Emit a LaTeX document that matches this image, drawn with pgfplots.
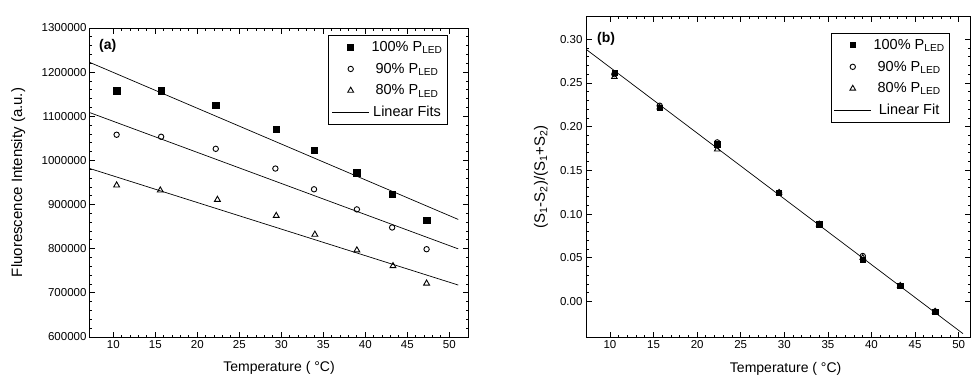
\documentclass[border=0pt]{standalone}
\usepackage{fontspec}
\setmainfont{Liberation Sans}
\usepackage{pgfplots}
\pgfplotsset{compat=1.18}
\begin{document}
\begin{tikzpicture}
\path[use as bounding box] (0pt,0pt) rectangle (972pt,375pt);
\pgfplotsset{
 common/.style={
   scale only axis, anchor=south west,
   /pgf/number format/assume math mode=true,
   tick align=inside, major tick length=5.5pt, minor tick length=2.5pt,
   every tick/.style={black, line width=0.8pt},
   axis line style={line width=1pt},
   ticklabel style={font=\fontsize{11.5}{13}\selectfont},
   xlabel style={font=\fontsize{14}{16}\selectfont},
   ylabel style={font=\fontsize{15}{17}\selectfont},
   legend style={font=\fontsize{14.5}{17}\selectfont, draw=black, line width=0.8pt,
     inner xsep=3pt, inner ysep=4pt, row sep=6pt, cells={anchor=center}},
   xtick={10,15,20,25,30,35,40,45,50}, minor x tick num=4,
   xlabel={Temperature ( °C)},
   xlabel style={at={(axis description cs:0.5,-0.10)}, anchor=center},
 },
 fitleg/.style={legend image code/.code={\draw[##1] (-0.35cm,0cm) -- (0.95cm,0cm);}},
}
% ---------------- (a) ----------------
\begin{axis}[common, at={(90pt,38pt)}, width=378pt, height=309pt,
 xmin=7.23, xmax=52.23, ymin=600000, ymax=1300000,
 ytick={600000,700000,800000,900000,1000000,1100000,1200000,1300000}, minor y tick num=4,
 scaled y ticks=false,
 yticklabel style={/pgf/number format/fixed, /pgf/number format/1000 sep={}},
 ylabel={Fluorescence Intensity (a.u.)},
 ylabel style={at={(axis description cs:-0.19,0.5)}, anchor=center},
 legend style={at={(0.947,0.977)}, anchor=north east},
]
\addplot[only marks, mark=square*, mark size=3.2pt, black] coordinates {
 (10.4,1158000) (15.7,1158000) (22.2,1125000) (29.4,1070300)
 (33.9,1022500) (39.0,972500) (43.2,923200) (47.3,864100)};
\addlegendentry{100\% P\textsubscript{LED}}
\addplot[only marks, mark=o, mark size=2.7pt, black, mark options={line width=0.9pt}] coordinates {
 (10.4,1058200) (15.7,1053600) (22.2,1026300) (29.3,981600)
 (33.9,934600) (39.0,889100) (43.2,848100) (47.3,798900)};
\addlegendentry{90\% P\textsubscript{LED}}
\addplot[only marks, mark=triangle, mark size=3.4pt, black, mark options={line width=0.9pt}] coordinates {
 (10.4,943700) (15.6,932300) (22.4,911100) (29.4,874700)
 (34.0,832200) (39.0,796600) (43.3,760900) (47.3,721500)};
\addlegendentry{80\% P\textsubscript{LED}}
\addplot[black, line width=0.7pt, fitleg] coordinates {(7.22,1221900) (51.07,866300)};
\addlegendentry{Linear Fits}
\addplot[black, line width=0.7pt, forget plot] coordinates {(7.22,1108200) (51.07,799600)};
\addplot[black, line width=0.7pt, forget plot] coordinates {(7.22,981600) (51.07,717700)};
\node[anchor=north west, font=\bfseries\fontsize{14}{16}\selectfont] at (rel axis cs:0.015,0.975) {(a)};
\end{axis}
% ---------------- (b) ----------------
\begin{axis}[common, at={(586pt,38pt)}, width=384pt, height=320pt,
 xmin=7.25, xmax=51.3, ymin=-0.0407, ymax=0.3255,
 ytick={0,0.05,0.1,0.15,0.2,0.25,0.3}, minor y tick num=4,
 scaled y ticks=false,
 yticklabel style={/pgf/number format/fixed, /pgf/number format/fixed zerofill, /pgf/number format/precision=2},
 ylabel={(S\textsubscript{1}-S\textsubscript{2})/(S\textsubscript{1}+S\textsubscript{2})},
 ylabel style={at={(axis description cs:-0.117,0.5)}, anchor=center},
 xlabel style={at={(axis description cs:0.52,-0.10)}, anchor=center},
 legend style={at={(0.948,0.95)}, anchor=north east},
]
\addplot[only marks, mark=square*, mark size=2.6pt, black] coordinates {
 (10.5,0.262) (15.7,0.222) (22.3,0.180) (29.4,0.1245)
 (34.0,0.0883) (39.0,0.0475) (43.3,0.018) (47.3,-0.0115)};
\addlegendentry{100\% P\textsubscript{LED}}
\addplot[only marks, mark=o, mark size=2.7pt, black, mark options={line width=0.9pt}] coordinates {
 (10.5,0.260) (15.7,0.224) (22.3,0.182) (29.4,0.1245)
 (34.0,0.0883) (39.0,0.052) (43.3,0.018) (47.3,-0.0115)};
\addlegendentry{90\% P\textsubscript{LED}}
\addplot[only marks, mark=triangle, mark size=3.2pt, black, mark options={line width=0.9pt}] coordinates {
 (10.5,0.257) (15.7,0.222) (22.3,0.174) (29.4,0.1245)
 (34.0,0.0883) (39.0,0.050) (43.3,0.018) (47.3,-0.0115)};
\addlegendentry{80\% P\textsubscript{LED}}
\addplot[black, line width=0.7pt, fitleg] coordinates {(7.25,0.2886) (50.5,-0.0369)};
\addlegendentry{Linear Fit}
\node[anchor=north west, font=\bfseries\fontsize{14}{16}\selectfont] at (rel axis cs:0.02,0.962) {(b)};
\end{axis}
\end{tikzpicture}
\end{document}
